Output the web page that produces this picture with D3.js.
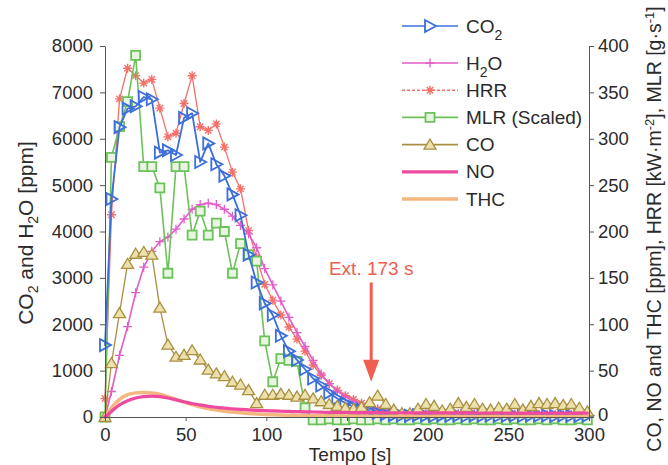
<!DOCTYPE html>
<html>
<head>
<meta charset="utf-8">
<script src="https://cdn.jsdelivr.net/npm/d3@7"></script>
<style>
  html, body { margin: 0; padding: 0; background: #fff; }
  svg { display: block; font-family: "Liberation Sans", Arial, sans-serif; }
</style>
</head>
<body>
<svg id="chart" width="668" height="465"></svg>
<script>
// time base [s]
const tempo = [0, 4, 9, 14, 19, 24, 29, 34, 39, 44, 49, 54, 59, 64, 69, 74, 79, 84, 89, 94,
  99, 104, 109, 114, 119, 124, 129, 134, 139, 144, 149, 154, 159, 164, 169, 174, 179, 184, 189, 194,
  199, 204, 209, 214, 219, 224, 229, 234, 239, 244, 249, 254, 259, 264, 269, 274, 279, 284, 289, 294, 299];

// left axis [ppm]
const co2 = [1550, 4700, 6250, 6650, 6700, 6900, 6850, 5700, 5750, 5650, 6450, 6550, 5500, 5900, 5450, 5200,
  4800, 4350, 3500, 2900, 2450, 2200, 1750, 1420, 1230, 1030, 830, 680, 520, 400, 300, 220, 160, 120, 90, 60, 40,
  30, 25, 40, 30, 20, 35, 25, 30, 20, 35, 25, 30, 20, 25, 30, 20, 35, 25, 30, 20, 30, 25, 20, 25];
const h2o = [0, 550, 1330, 1950, 2680, 3230, 3570, 3780, 3880, 4050, 4270, 4480, 4580, 4610, 4580, 4480,
  4330, 4130, 3950, 3650, 3200, 2850, 2500, 2150, 1820, 1520, 1220, 930, 720, 560, 440, 340, 270, 210, 170, 140, 115,
  100, 95, 90, 85, 80, 80, 75, 75, 70, 70, 70, 65, 65, 65, 60, 60, 60, 60, 55, 55, 55, 55, 50, 50];

// right axis
const hrr = [20, 218, 343, 376, 368, 360, 364, 333, 302, 306, 338, 368, 313, 309, 316, 291, 264, 246, 201, 172,
  143, 126, 110, 97, 84, 71, 56, 45, 36, 29, 23, 19, 15, 11.5, 8.5, 6.5, 5,
  4, 4, 3.5, 3, 3, 3, 3, 3, 3, 3, 2.5, 2.5, 2.5, 2.5, 2.5, 2.5, 2.5, 2.5, 2, 2, 2, 2, 2, 2];
const mlr = [0, 280, 313, 340, 390, 270, 270, 247, 155, 270, 270, 196, 222, 196, 209, 200, 155, 187, 175, 168,
  82, 38, 63, 61, 60, 10, -3,
  -3, -2, -3, -3, -2, -3, -3, -2, -3, -2, -3, -3, -2, -3, -2, -3, -3, -2, -3, -2, -3, -3, -2, -3, -2, -3, -3, -2, -3, -2, -3, -3, -2, -3];
const co = [0, 58, 112, 165, 176, 178, 175, 118, 78, 65, 67, 72, 62, 51, 47, 44, 38, 35, 29, 15, 24, 24, 25, 24, 22, 24, 20, 17,
  14, 12, 10, 9, 11, 16, 23, 14, 8, 4, 4, 9, 14, 12, 7, 9, 15, 11, 14, 9, 8, 10, 9, 14, 8, 12, 15, 14, 15, 13, 14, 10, 6];
const no = [0, 6, 13, 17.5, 20.5, 22, 22.5, 22, 20.5, 18.5, 16.5, 14.5, 13, 11.5, 10.5, 9.5, 8.8, 8.2, 7.7, 7.2,
  6.8, 6.5, 6.2, 6, 5.8, 5.6, 5.4, 5.2, 5,
  5, 4.9, 4.8, 4.8, 4.7, 4.7, 4.6, 4.6, 4.6, 4.5, 4.5, 4.5, 4.5, 4.4, 4.4, 4.4, 4.4, 4.3, 4.3, 4.3, 4.3, 4.3,
  4.2, 4.2, 4.2, 4.2, 4.2, 4.1, 4.1, 4.1, 4.1, 4.1];
const thc = [0, 10, 19, 24, 26, 26.5, 26, 24.5, 22, 19, 16, 13.5, 11, 9, 7.5, 6.3, 5.3, 4.5, 3.8, 3.2,
  2.7, 2.4, 2.1, 1.9, 1.7, 1.5, 1.4, 1.3, 1.2,
  1.1, 1, 1, 1, 0.9, 0.9, 0.9, 0.8, 0.8, 0.8, 0.8, 0.7, 0.7, 0.7, 0.7, 0.7, 0.6, 0.6, 0.6, 0.6, 0.6, 0.6,
  0.5, 0.5, 0.5, 0.5, 0.5, 0.5, 0.5, 0.5, 0.5, 0.5];

const xTicks = [0, 50, 100, 150, 200, 250, 300];
const leftTicks = [0, 1000, 2000, 3000, 4000, 5000, 6000, 7000, 8000];
const rightTicks = [0, 50, 100, 150, 200, 250, 300, 350, 400];

// extinction annotation (time, arrow start / end on right axis)
const extTime = 165;
const extLabel = "Ext. 173 s";
const extFrom = 145;
const extTo = 38;

const svg = d3.select("#chart");
const margin = { top: 46, right: 79, bottom: 48, left: 105 };
const width = 668, height = 465;
const plotBottom = height - margin.bottom;
const plotRight = width - margin.right;

const x = d3.scaleLinear().domain([0, 300]).range([margin.left, plotRight]);
const yL = d3.scaleLinear().domain([0, 8000]).range([plotBottom, margin.top]);
const yR = d3.scaleLinear().domain([0, 400]).range([plotBottom, margin.top]);

const textColor = "#2b2b2b";
const axisColor = "#555";

// markers
const markers = {
  triRight: "M-5,-6L6,0L-5,6Z",
  plus: "M-4.5,0H4.5M0,-4.5V4.5",
  star: "M-4.5,0H4.5M0,-4.5V4.5M-3.2,-3.2L3.2,3.2M-3.2,3.2L3.2,-3.2",
  square: "M-4.5,-4.5H4.5V4.5H-4.5Z",
  triUp: "M0,-5.5L6,4.5H-6Z"
};

const series = [
  { name: "HRR", values: hrr, y: yR, color: "#f36f6a", width: 1.3, marker: "star", fill: "none", mw: 1.4, legendDash: "3,2" },
  { name: "H2O", values: h2o, y: yL, color: "#e35cc9", width: 1.6, marker: "plus", fill: "none", mw: 1.3 },
  { name: "MLR", values: mlr, y: yR, color: "#6cc25a", width: 1.6, marker: "square", fill: "#e8f5e1", mw: 1.8 },
  { name: "CO2", values: co2, y: yL, color: "#3d6fd8", width: 1.8, marker: "triRight", fill: "none", mw: 1.8 },
  { name: "CO", values: co, y: yR, color: "#a99041", width: 1.3, marker: "triUp", fill: "#ece0ad", mw: 1.3 },
  { name: "THC", values: thc, y: yR, color: "#f3b77f", width: 3.5, marker: null },
  { name: "NO", values: no, y: yR, color: "#ef4a9f", width: 3.2, marker: null }
];

const plot = svg.append("g");
series.forEach(s => {
  const pts = tempo.map((t, i) => [t, s.values[i]]);
  const line = d3.line().x(d => x(d[0])).y(d => s.y(d[1]));
  if (s.marker === null) line.curve(d3.curveMonotoneX);
  plot.append("path")
    .datum(pts)
    .attr("fill", "none")
    .attr("stroke", s.color)
    .attr("stroke-width", s.width)
    .attr("stroke-linejoin", "round")
    .attr("stroke-linecap", "round")
    .attr("d", line);
  if (s.marker) {
    plot.append("g").selectAll("path")
      .data(pts)
      .enter()
      .append("path")
      .attr("transform", d => `translate(${x(d[0])},${s.y(d[1])})`)
      .attr("d", markers[s.marker])
      .attr("fill", s.fill)
      .attr("stroke", s.color)
      .attr("stroke-width", s.mw);
  }
});

// axes
function styleAxis(g) {
  g.select(".domain").attr("stroke", axisColor).attr("stroke-width", 1);
  g.selectAll(".tick line").attr("stroke", axisColor);
  g.selectAll(".tick text").attr("fill", textColor).attr("font-size", 18.5)
    .attr("font-family", "'Liberation Sans', Arial, sans-serif");
}

svg.append("g")
  .attr("transform", `translate(0,${plotBottom})`)
  .call(d3.axisBottom(x).tickValues(xTicks).tickFormat(d3.format("d")).tickSize(4).tickPadding(7).tickSizeOuter(0))
  .call(styleAxis);

svg.append("g")
  .attr("transform", `translate(${margin.left},0)`)
  .call(d3.axisLeft(yL).tickValues(leftTicks).tickFormat(d3.format("d")).tickSize(5).tickPadding(7).tickSizeOuter(0))
  .call(styleAxis);

const rightAxis = svg.append("g")
  .attr("transform", `translate(${plotRight},0)`)
  .call(d3.axisRight(yR).tickValues(rightTicks).tickFormat(d3.format("d")).tickSize(5).tickPadding(4).tickSizeOuter(0))
  .call(styleAxis);
// lift the bottom right label a little so it clears the "300" below it
rightAxis.selectAll(".tick text").filter(d => d === 0).attr("y", -2);

// axis titles
svg.append("text")
  .attr("x", (margin.left + plotRight) / 2 + 3)
  .attr("y", 461)
  .attr("text-anchor", "middle")
  .attr("font-size", 19)
  .attr("fill", textColor)
  .text("Tempo [s]");

const leftTitle = svg.append("text")
  .attr("transform", "translate(33,233) rotate(-90)")
  .attr("text-anchor", "middle")
  .attr("font-size", 21)
  .attr("fill", textColor);
leftTitle.append("tspan").text("CO");
leftTitle.append("tspan").attr("dy", 5).attr("font-size", 14).text("2");
leftTitle.append("tspan").attr("dy", -5).text(" and H");
leftTitle.append("tspan").attr("dy", 5).attr("font-size", 14).text("2");
leftTitle.append("tspan").attr("dy", -5).text("O [ppm]");

const rightTitle = svg.append("text")
  .attr("transform", "translate(661,229) rotate(-90)")
  .attr("text-anchor", "middle")
  .attr("font-size", 19.5)
  .attr("fill", textColor);
rightTitle.append("tspan").text("CO, NO and THC [ppm], HRR [kW·m");
rightTitle.append("tspan").attr("dy", -7).attr("font-size", 13).text("-2");
rightTitle.append("tspan").attr("dy", 7).text("], MLR [g·s");
rightTitle.append("tspan").attr("dy", -7).attr("font-size", 13).text("-1");
rightTitle.append("tspan").attr("dy", 7).text("]");

// extinction annotation
const extColor = "#ef5e4f";
const ax = x(extTime);
svg.append("text")
  .attr("x", ax)
  .attr("y", yR(extFrom) - 8)
  .attr("text-anchor", "middle")
  .attr("font-size", 19)
  .attr("fill", extColor)
  .text(extLabel);
svg.append("line")
  .attr("x1", ax).attr("x2", ax)
  .attr("y1", yR(extFrom)).attr("y2", yR(extTo) - 18)
  .attr("stroke", extColor)
  .attr("stroke-width", 3);
svg.append("path")
  .attr("d", `M${ax - 8},${yR(extTo) - 22}L${ax + 8},${yR(extTo) - 22}L${ax},${yR(extTo)}Z`)
  .attr("fill", extColor);

// legend
const legendOrder = [
  { key: "CO2", label: ["CO", "2"] },
  { key: "H2O", label: ["H", "2", "O"] },
  { key: "HRR", label: ["HRR"] },
  { key: "MLR", label: ["MLR (Scaled)"] },
  { key: "CO", label: ["CO"] },
  { key: "NO", label: ["NO"] },
  { key: "THC", label: ["THC"] }
];
const legend = svg.append("g");
legendOrder.forEach((item, i) => {
  const s = series.find(d => d.name === item.key);
  const ly = i === 0 ? 26 : 63 + (i - 1) * 27.2;
  legend.append("line")
    .attr("x1", 402).attr("x2", 458)
    .attr("y1", ly).attr("y2", ly)
    .attr("stroke", s.color)
    .attr("stroke-width", s.marker ? 1.6 : s.width)
    .attr("stroke-dasharray", s.legendDash || null);
  if (s.marker) {
    legend.append("path")
      .attr("transform", `translate(430,${ly})`)
      .attr("d", markers[s.marker])
      .attr("fill", s.fill === "none" ? "#fff" : s.fill)
      .attr("stroke", s.color)
      .attr("stroke-width", s.mw);
  }
  const t = legend.append("text")
    .attr("x", 466)
    .attr("y", ly + 6.5)
    .attr("font-size", 19)
    .attr("fill", textColor);
  item.label.forEach((part, j) => {
    const sub = item.label.length > 1 && j === 1;
    const ts = t.append("tspan").text(part);
    if (sub) ts.attr("dy", 7).attr("font-size", 14);
    if (j === 2) ts.attr("dy", -7);
  });
});
</script>
</body>
</html>
